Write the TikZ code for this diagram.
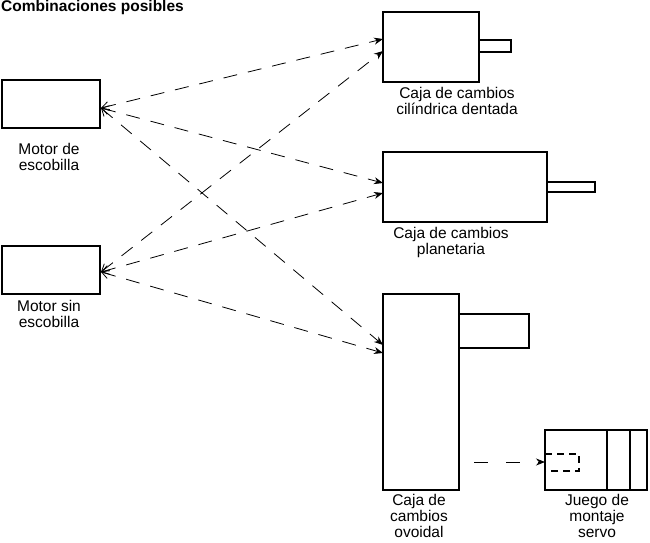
\documentclass[tikz,border=0pt]{standalone}
\usepackage{fontspec}
\setmainfont{Liberation Sans}
\usetikzlibrary{arrows.meta, positioning}
\begin{document}
\begin{tikzpicture}[x=1pt, y=-1pt,
  box/.style={draw, line width=1.3pt},
  lbl/.style={align=center, font=\fontsize{15.5}{16}\selectfont},
  link/.style={dash pattern=on 14pt off 11pt, line width=0.8pt, {Straight Barb[length=7pt,width=9pt]}-{Stealth[length=9pt,width=7pt]}}]

	\useasboundingbox (0,0) rectangle (650,543);

	% Title
	\node[anchor=west, inner sep=0pt, font=\bfseries\fontsize{15.5}{16}\selectfont] (title) at (1,7) {Combinaciones posibles};

	% Motors
	\draw[box] (2,80) rectangle (100,128);
	\coordinate (m1) at (101,108);
	\node[lbl] (lm1) at (49,157) {Motor de\\escobilla};
	\draw[box] (2,246) rectangle (100,294);
	\coordinate (m2) at (101,272);
	\node[lbl] (lm2) at (49,314) {Motor sin\\escobilla};

	% Gearboxes
	\draw[box] (383,12) rectangle (479,82);
	\draw[box] (479,40) rectangle (511,52);
	\node[lbl] (lcyl) at (457,101) {Caja de cambios\\cilíndrica dentada};
	\draw[box] (383,152) rectangle (547,222);
	\draw[box] (547,182) rectangle (595,192);
	\node[lbl] (lpla) at (451,242) {Caja de cambios\\planetaria};
	\draw[box] (383,294) rectangle (459,490);
	\draw[box] (459,314) rectangle (529,348);
	\node[lbl] (lovo) at (419,516) {Caja de\\cambios\\ovoidal};

	% Servo kit
	\draw[box] (545,430) rectangle (647,490);
	\draw[box] (607,430) -- (607,490);
	\draw[box] (630,430) -- (630,490);
	\draw[dash pattern=on 7pt off 5pt, line width=1.1pt] (545,454) -- (579,454) -- (579,471) -- (545,471);
	\node[lbl] (lsrv) at (597,516) {Juego de\\montaje\\servo};

	% Connectors
	\coordinate (c1) at (383,39);
	\coordinate (c2) at (383,51);
	\coordinate (p1) at (383,183);
	\coordinate (p2) at (383,193);
	\coordinate (o1) at (383,345);
	\coordinate (o2) at (383,353);
	\draw[link] (m1) -- (c1);
	\draw[link] (m1) -- (p1);
	\draw[link] (m1) -- (o1);
	\draw[link] (m2) -- (c2);
	\draw[link] (m2) -- (p2);
	\draw[link] (m2) -- (o2);
	\coordinate (s0) at (474,462);
	\coordinate (s1) at (545,462);
	\draw[dash pattern=on 14pt off 18pt, line width=0.8pt, -{Stealth[length=9pt,width=7pt]}] (s0) -- (s1);

\end{tikzpicture}
\end{document}
